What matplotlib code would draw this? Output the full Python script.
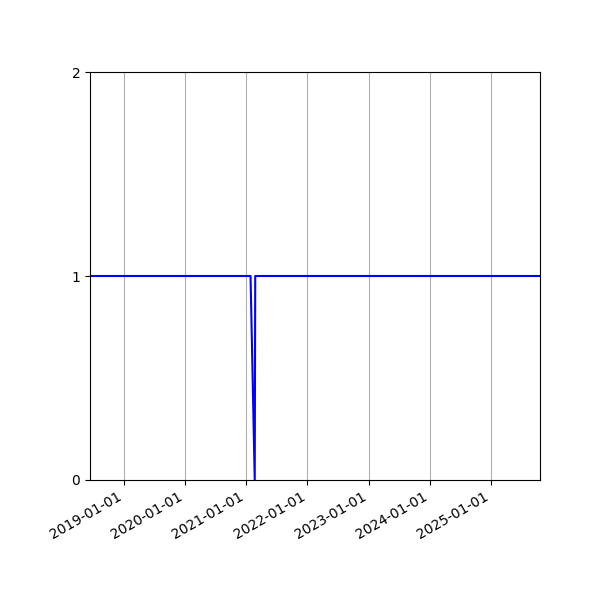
import numpy as np
import pandas as pd
import matplotlib
matplotlib.use("Agg")
import matplotlib.pyplot as plt
import matplotlib.dates as mdates

dates = pd.to_datetime(["2018-06-12", "2021-01-26", "2021-02-20", "2021-02-23", "2025-10-21"])
values = [1, 1, 0, 1, 1]

fig, ax = plt.subplots(figsize=(6, 6), dpi=100)
fig.subplots_adjust(left=0.15, right=0.9, top=0.88, bottom=0.2)

ax.plot(dates, values, color="blue")
ax.set_xlim(dates[0], dates[-1])
ax.set_ylim(0, 2)
ax.set_yticks([0, 1, 2])
ax.xaxis.set_major_locator(mdates.YearLocator())
ax.xaxis.set_major_formatter(mdates.DateFormatter("%Y-%m-%d"))
ax.grid(axis="x")
fig.autofmt_xdate()

fig.savefig("out.png")
